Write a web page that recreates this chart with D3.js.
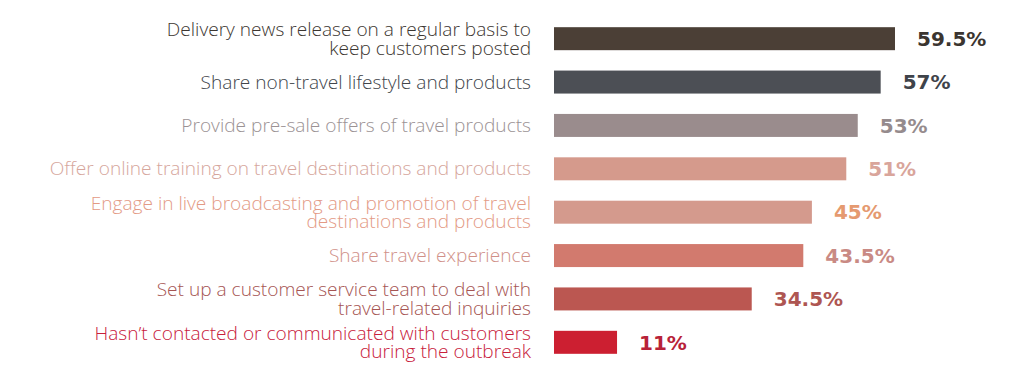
<!DOCTYPE html>
<html><head><meta charset="utf-8">
<script src="https://cdn.jsdelivr.net/npm/d3@7"></script>
<style>body{margin:0;background:#fff}svg{display:block}</style>
</head><body>
<svg id="c" width="1010" height="380"></svg>
<script>
const categories = [
  ["Delivery news release on a regular basis to","keep customers posted"],
  ["Share non-travel lifestyle and products"],
  ["Provide pre-sale offers of travel products"],
  ["Offer online training on travel destinations and products"],
  ["Engage in live broadcasting and promotion of travel","destinations and products"],
  ["Share travel experience"],
  ["Set up a customer service team to deal with","travel-related inquiries"],
  ["Hasn\u2019t contacted or communicated with customers","during the outbreak"]
];
const values = [59.5, 57, 53, 51, 45, 43.5, 34.5, 11];
const valueLabels = ["59.5%","57%","53%","51%","45%","43.5%","34.5%","11%"];
const barColors = ["#4b3f36","#4c4f55","#9a8c8d","#d59a8c","#d49a8d","#d27a6e","#bb5751","#cc1f31"];
const labelColors = ["#3c3631","#41454b","#9b9294","#d6a69c","#e39a85","#d09088","#a65553","#c8203b"];
const valueColors = ["#3b3530","#3f434a","#958b8d","#d9a59b","#e59a70","#c98a84","#ae5652","#b82238"];

const svg = d3.select("#c");
const idx = d3.range(values.length);
const x = d3.scaleLinear().domain([0, 59.5]).range([554, 895]);
const y = d3.scaleBand().domain(idx).range([17, 364]).paddingInner(0.47).paddingOuter(0.235);

svg.selectAll("rect.bar").data(idx).join("rect")
  .attr("class","bar")
  .attr("x", x(0))
  .attr("y", i => y(i))
  .attr("width", i => x(values[i]) - x(0))
  .attr("height", y.bandwidth())
  .attr("fill", i => barColors[i]);

const lab = svg.selectAll("text.lab").data(idx).join("text")
  .attr("class","lab")
  .attr("text-anchor","end")
  .attr("font-family","'Open Sans', sans-serif")
  .attr("font-weight", 300)
  .attr("font-size", 19.1)
  .attr("fill", i => labelColors[i]);
lab.each(function(i){
  const lines = categories[i];
  const cy = y(i) + y.bandwidth()/2;
  const lh = 18.5;
  const t = d3.select(this);
  lines.forEach((s, k) => {
    t.append("tspan")
      .attr("x", 531)
      .attr("y", cy + (k - (lines.length-1)/2) * lh)
      .attr("dy", "0.35em")
      .text(s);
  });
});

svg.selectAll("text.val").data(idx).join("text")
  .attr("class","val")
  .attr("x", i => x(values[i]) + 22)
  .attr("y", i => y(i) + y.bandwidth()/2)
  .attr("dy","0.36em")
  .attr("font-family","'DejaVu Sans', sans-serif")
  .attr("font-weight", 700)
  .attr("font-size", 20)
  .attr("fill", i => valueColors[i])
  .text(i => valueLabels[i]);
</script>
</body></html>
